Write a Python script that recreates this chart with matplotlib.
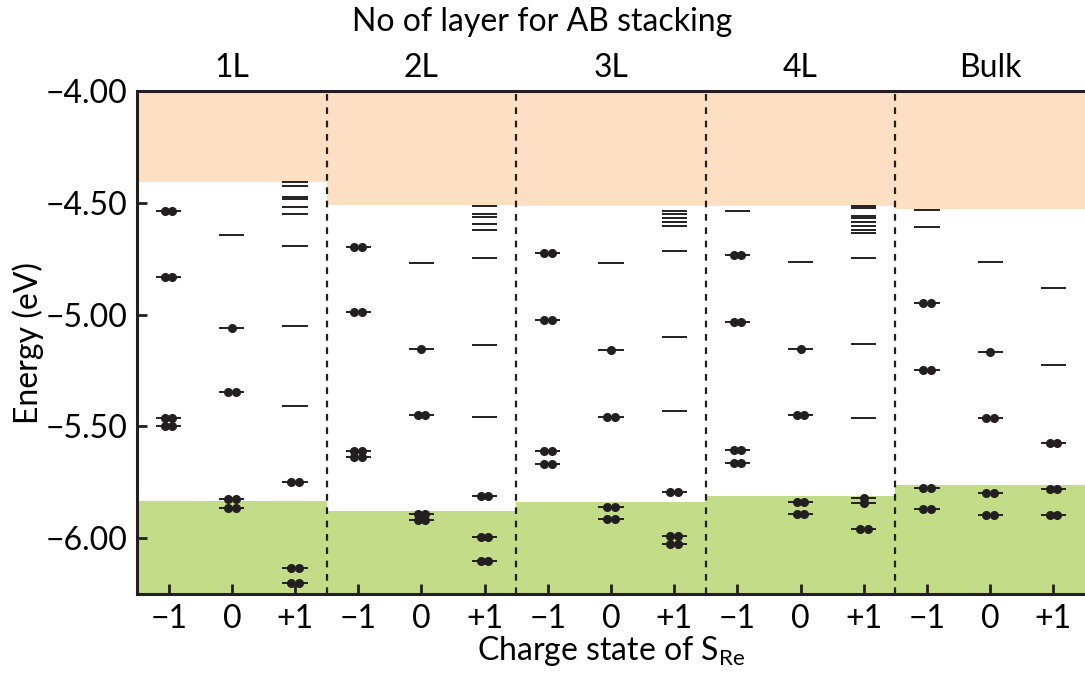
import matplotlib
matplotlib.use("Agg")
import matplotlib.pyplot as plt
from matplotlib.ticker import FuncFormatter

plt.rcParams['font.family'] = ['Lato', 'DejaVu Sans']
plt.rcParams['mathtext.fontset'] = 'custom'
plt.rcParams['mathtext.rm'] = 'Lato'

# groups (layers) and charge states
group_labels = ['1L', '2L', '3L', '4L', 'Bulk']
charge_labels = ['\u22121', '0', '+1']

# band edges per group (eV)
cbm = [-4.406, -4.510, -4.513, -4.515, -4.528]
vbm = [-5.834, -5.878, -5.838, -5.812, -5.763]

# defect levels per group: one list per charge state (-1, 0, +1)
# occupancy: number of dots drawn on each level
levels_1L = [[-4.535, -4.831, -5.462, -5.499],
             [-4.643, -5.059, -5.345, -5.824, -5.864],
             [-4.406, -4.425, -4.475, -4.485, -4.517, -4.549, -4.692, -5.050, -5.408, -5.749, -6.134, -6.200]]
occ_1L = [[2, 2, 2, 2],
          [0, 1, 2, 2, 2],
          [0, 0, 0, 0, 0, 0, 0, 0, 0, 2, 2, 2]]

levels_2L = [[-4.697, -4.989, -5.609, -5.638],
             [-4.768, -5.153, -5.448, -5.891, -5.919],
             [-4.513, -4.549, -4.562, -4.594, -4.621, -4.746, -5.135, -5.457, -5.811, -5.994, -6.101]]
occ_2L = [[2, 2, 2, 2],
          [0, 1, 2, 2, 2],
          [0, 0, 0, 0, 0, 0, 0, 0, 2, 2, 2]]

levels_3L = [[-4.726, -5.023, -5.609, -5.667],
             [-4.768, -5.159, -5.457, -5.861, -5.913],
             [-4.535, -4.549, -4.570, -4.586, -4.604, -4.714, -5.099, -5.430, -5.793, -5.990, -6.025]]
occ_3L = [[2, 2, 2, 2],
          [0, 1, 2, 2, 2],
          [0, 0, 0, 0, 0, 0, 0, 0, 2, 2, 2]]

levels_4L = [[-4.535, -4.732, -5.032, -5.605, -5.663],
             [-4.764, -5.153, -5.451, -5.837, -5.891],
             [-4.514, -4.522, -4.559, -4.567, -4.588, -4.604, -4.620, -4.634, -4.746, -5.131, -5.461, -5.820, -5.842, -5.958]]
occ_4L = [[0, 2, 2, 2, 2],
          [0, 1, 2, 2, 2],
          [0, 0, 0, 0, 0, 0, 0, 0, 0, 0, 0, 1, 1, 2]]

levels_bulk = [[-4.531, -4.607, -4.947, -5.247, -5.775, -5.869],
               [-4.764, -5.168, -5.461, -5.797, -5.896],
               [-4.880, -5.225, -5.574, -5.779, -5.896]]
occ_bulk = [[0, 0, 2, 2, 2, 2],
            [0, 1, 2, 2, 2],
            [0, 0, 2, 2, 2]]

all_levels = [levels_1L, levels_2L, levels_3L, levels_4L, levels_bulk]
all_occ = [occ_1L, occ_2L, occ_3L, occ_4L, occ_bulk]

ymin, ymax = -6.25, -4.0
ink = '#231f20'
fs = 23

fig = plt.figure(figsize=(10.85, 6.79), dpi=100)
ax = fig.add_axes([0.1263, 0.125, 0.8737, 0.741])

for g in range(len(group_labels)):
    x0, x1 = 3 * g - 0.5, 3 * g + 2.5
    ax.fill_between([x0, x1], cbm[g], ymax, color='#fde0c3', lw=0, zorder=0)
    ax.fill_between([x0, x1], ymin, vbm[g], color='#c3dc88', lw=0, zorder=0)
    for c in range(3):
        x = 3 * g + c
        for e, n in zip(all_levels[g][c], all_occ[g][c]):
            ax.hlines(e, x - 0.2, x + 0.2, color=ink, lw=1.4, zorder=2)
            if n == 1:
                ax.plot([x], [e], 'o', color=ink, ms=5.5, zorder=3)
            elif n == 2:
                ax.plot([x - 0.06, x + 0.06], [e, e], 'o', color=ink, ms=5.5, zorder=3)

for g in range(1, len(group_labels)):
    ax.axvline(3 * g - 0.5, color=ink, lw=1.6, ls=(0, (3, 3)), zorder=1)

ax.set_xlim(-0.5, 14.5)
ax.set_ylim(ymin, ymax)

ax.set_xticks(range(15))
ax.set_xticklabels(charge_labels * 5)
ax.set_yticks([-4.0, -4.5, -5.0, -5.5, -6.0])
ax.yaxis.set_major_formatter(FuncFormatter(lambda v, p: f'{v:.2f}'.replace('-', '\u2212')))
ax.tick_params(direction='in', length=7, width=2, labelsize=fs, color=ink, pad=7)

for s in ['top', 'left', 'bottom']:
    ax.spines[s].set_linewidth(2.2)
    ax.spines[s].set_color(ink)
ax.spines['right'].set_visible(False)

top = ax.secondary_xaxis('top')
top.set_xticks([1, 4, 7, 10, 13])
top.set_xticklabels(group_labels)
top.tick_params(length=0, labelsize=fs, pad=6)
top.spines['top'].set_visible(False)

ax.set_xlabel('Charge state of S$_{\\mathrm{Re}}$', fontsize=fs, labelpad=0)
ax.set_ylabel('Energy (eV)', fontsize=fs)
ax.yaxis.set_label_coords(-0.098, 0.5)
fig.text(0.5, 0.968, 'No of layer for AB stacking', fontsize=fs, ha='center', va='center')

fig.savefig('out.png', dpi=100)
